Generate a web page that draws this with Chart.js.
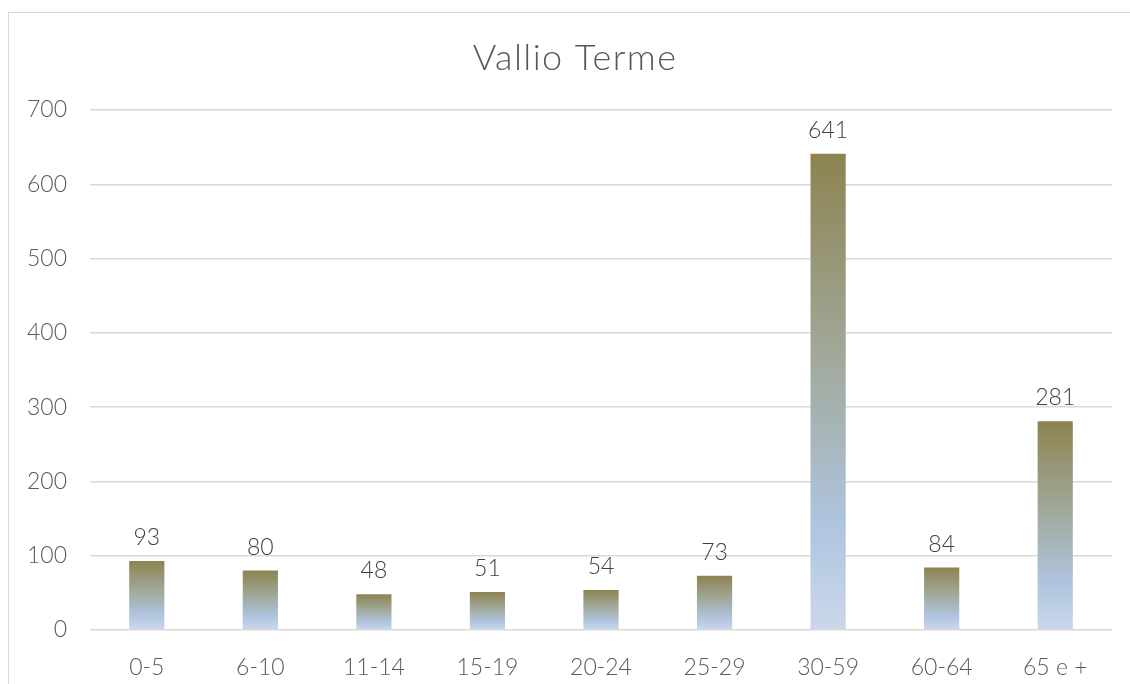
<!DOCTYPE html>
<html>
<head>
<meta charset="utf-8">
<title>Vallio Terme</title>
<script src="https://cdn.jsdelivr.net/npm/chart.js@4/dist/chart.umd.min.js"></script>
<style>
  body { margin: 0; background: #fff; }
  #wrap { position: relative; width: 1130px; height: 684px; overflow: hidden; }
  #frame { position: absolute; left: 8px; top: 12px; width: 1200px; height: 800px;
           border-left: 1px solid #d9d9d9; border-top: 1px solid #d9d9d9; }
  canvas { position: absolute; left: 0; top: 0; }
</style>
</head>
<body>
<div id="wrap">
  <div id="frame"></div>
  <canvas id="myChart" width="1130" height="684"></canvas>
</div>
<script>
// age classes and residents
var chartTitle = 'Vallio Terme';
var ageGroups = ['0-5', '6-10', '11-14', '15-19', '20-24', '25-29', '30-59', '60-64', '65 e +'];
var residents = [93, 80, 48, 51, 54, 73, 641, 84, 281];
var yMax = 700;
var yStep = 100;

// gradient goes from pale blue at the base to olive at the top of each bar
function barFill(c) {
  var chart = c.chart;
  if (!chart.chartArea || c.raw === undefined) return '#afc4e0';
  var y = chart.scales.y;
  var top = y.getPixelForValue(c.raw);
  var bottom = y.getPixelForValue(0);
  var g = chart.ctx.createLinearGradient(0, bottom, 0, top);
  g.addColorStop(0, '#cbd8ea');
  g.addColorStop(0.22, '#afc4e0');
  g.addColorStop(0.55, '#a2ab9f');
  g.addColorStop(1, '#8d8350');
  return g;
}

// title drawn by hand so it can get the wider letter spacing
var titleText = {
  id: 'titleText',
  beforeDraw: function(chart) {
    var ctx = chart.ctx;
    ctx.save();
    ctx.font = '300 36px Lato';
    ctx.letterSpacing = '1.4px';
    ctx.fillStyle = '#595959';
    ctx.textAlign = 'center';
    ctx.textBaseline = 'alphabetic';
    ctx.fillText(chartTitle, 575, 70);
    ctx.restore();
  }
};

// value written above each bar
var valueLabels = {
  id: 'valueLabels',
  afterDatasetsDraw: function(chart) {
    var ctx = chart.ctx;
    var meta = chart.getDatasetMeta(0);
    ctx.save();
    ctx.font = '300 23px Lato';
    ctx.fillStyle = '#404040';
    ctx.textAlign = 'center';
    ctx.textBaseline = 'alphabetic';
    meta.data.forEach(function(bar, i) {
      ctx.fillText(residents[i], bar.x, bar.y - 16);
    });
    ctx.restore();
  }
};

var ctx = document.getElementById('myChart').getContext('2d');
var chart = new Chart(ctx, {
  type: 'bar',
  data: {
    labels: ageGroups,
    datasets: [{
      data: residents,
      backgroundColor: barFill,
      borderWidth: 0,
      barPercentage: 0.31,
      categoryPercentage: 1
    }]
  },
  options: {
    responsive: false,
    animation: false,
    layout: { padding: { left: 0, right: 18, top: 110, bottom: 0 } },
    plugins: {
      legend: { display: false },
      tooltip: { enabled: false },
      title: { display: false }
    },
    scales: {
      x: {
        grid: { display: false },
        border: { display: false },
        ticks: {
          color: '#595959',
          font: { family: 'Lato', size: 23, weight: '300' },
          padding: 16,
          maxRotation: 0
        },
        afterFit: function(s) { s.height = 54; }
      },
      y: {
        min: 0,
        max: yMax,
        grid: { color: '#d9d9d9', lineWidth: 1.5, drawTicks: false },
        border: { display: false },
        ticks: {
          stepSize: yStep,
          color: '#595959',
          font: { family: 'Lato', size: 23, weight: '300' },
          padding: 23
        },
        afterFit: function(s) { s.width = 90; }
      }
    }
  },
  plugins: [titleText, valueLabels]
});
</script>
</body>
</html>
